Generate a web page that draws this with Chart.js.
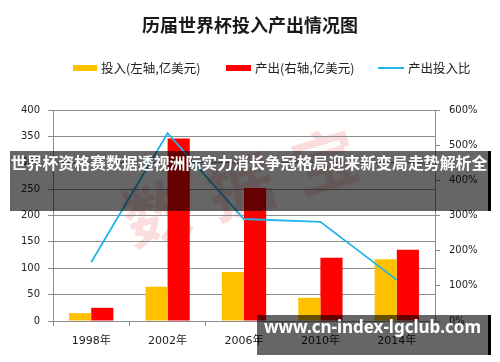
<!DOCTYPE html>
<html>
<head>
<meta charset="utf-8">
<script src="https://cdn.jsdelivr.net/npm/chart.js@4/dist/chart.umd.min.js"></script>
<style>
  html, body { margin:0; padding:0; background:#fff; }
  #wrap { position:relative; width:500px; height:362px; overflow:hidden; }
  #c { position:absolute; left:0; top:0; z-index:2; }
  .abs { position:absolute; white-space:nowrap; }
  #title { left:0; width:500px; top:10px; text-align:center; font:bold 18px 'Noto Sans CJK SC', sans-serif; color:#1a1a1a; line-height:28px; z-index:3; }
  .lg { font:12.5px 'Noto Sans CJK SC', sans-serif; color:#222; line-height:16px; top:60px; z-index:3; }
  .box { height:6px; top:65px; z-index:3; }
  #wm { z-index:1; font:bold 66px 'Noto Sans CJK SC', sans-serif; color:rgba(235,100,100,0.22); }
  #band1 { left:10px; top:151px; width:478px; height:60px; background:rgba(0,0,0,0.6); border-right:3px solid #000; z-index:5; }
  #band1 span { position:absolute; left:0; top:0; width:478px; text-align:center; line-height:64px; font:bold 15.9px 'Noto Sans CJK SC', sans-serif; color:#fff; letter-spacing:0px; }
  #band2 { left:257px; top:315px; width:231px; height:40px; background:rgba(0,0,0,0.6); border-right:3px solid #000; z-index:5; }
  #band2 span { position:absolute; left:0; top:0; width:231px; text-align:center; line-height:42px; font:bold 17px 'Noto Sans', sans-serif; color:#fff; }
</style>
</head>
<body>
<div id="wrap">
  <canvas id="c" width="500" height="362"></canvas>
  <div id="title" class="abs">历届世界杯投入产出情况图</div>
  <div class="abs box" style="left:73px;width:24px;background:#FFC000;"></div>
  <div class="abs lg" style="left:101px;">投入(左轴,亿美元)</div>
  <div class="abs box" style="left:226px;width:25px;background:#FF0000;"></div>
  <div class="abs lg" style="left:255px;">产出(右轴,亿美元)</div>
  <div class="abs" style="left:378px;top:67px;width:26px;height:2px;background:#1FB4EA;z-index:3;"></div>
  <div class="abs lg" style="left:408px;">产出投入比</div>
  <div id="wm" class="abs" style="left:118px;top:132px;transform:rotate(-17deg);transform-origin:50% 50%;letter-spacing:22px;">数据宝</div>
  <div id="band1" class="abs"><span>世界杯资格赛数据透视洲际实力消长争冠格局迎来新变局走势解析全</span></div>
  <div id="band2" class="abs"><span>www.cn-index-lgclub.com</span></div>
</div>
<script>
const categories = ['1998年', '2002年', '2006年', '2010年', '2014年'];
const inputValues = [15, 65, 93, 44, 117];
const outputValues = [25, 346, 252, 120, 135];
const ratioValues = [167, 534, 290, 282, 117];
const leftTicks = [0, 50, 100, 150, 200, 250, 300, 350, 400];
const rightTicks = [0, 100, 200, 300, 400, 500, 600];

const gridColor = '#8c8c8c';
const tickFont = { family: "'DejaVu Sans', 'Noto Sans CJK SC', sans-serif", size: 10 };

new Chart(document.getElementById('c'), {
  type: 'bar',
  data: {
    labels: categories,
    datasets: [
      { label: '投入(左轴,亿美元)', data: inputValues, backgroundColor: '#FFC000', yAxisID: 'y', order: 2,
        categoryPercentage: 0.58, barPercentage: 1.0 },
      { label: '产出(右轴,亿美元)', data: outputValues, backgroundColor: '#FF0000', yAxisID: 'y', order: 2,
        categoryPercentage: 0.58, barPercentage: 1.0 },
      { type: 'line', label: '产出投入比', data: ratioValues, borderColor: '#1FB4EA', borderWidth: 1.8,
        pointRadius: 0, tension: 0, fill: false, yAxisID: 'y1', order: 0 }
    ]
  },
  options: {
    responsive: false,
    animation: false,
    events: [],
    layout: { padding: { top: 110, left: 0, right: 0, bottom: 0 } },
    plugins: { legend: { display: false }, title: { display: false }, tooltip: { enabled: false } },
    scales: {
      x: {
        grid: { drawOnChartArea: false, drawTicks: true, tickLength: 5, color: gridColor, offset: true },
        border: { color: gridColor },
        ticks: { font: { family: "'DejaVu Sans', 'Noto Sans CJK SC', sans-serif", size: 11 }, color: '#222', padding: 9, maxRotation: 0 },
        afterFit: s => { s.height = 41; }
      },
      y: {
        position: 'left',
        min: 0, max: 400,
        afterBuildTicks: s => { s.ticks = leftTicks.map(v => ({ value: v })); },
        grid: { color: gridColor, tickLength: 5 },
        border: { color: gridColor },
        ticks: { font: tickFont, color: '#222', padding: 8 },
        afterFit: s => { s.width = 53; }
      },
      y1: {
        position: 'right',
        min: 0, max: 600,
        afterBuildTicks: s => { s.ticks = rightTicks.map(v => ({ value: v })); },
        grid: { drawOnChartArea: false, color: gridColor, tickLength: 5 },
        border: { color: gridColor },
        ticks: { font: tickFont, color: '#222', padding: 9, callback: v => v + '%' },
        afterFit: s => { s.width = 65; }
      }
    }
  }
});
</script>
</body>
</html>
